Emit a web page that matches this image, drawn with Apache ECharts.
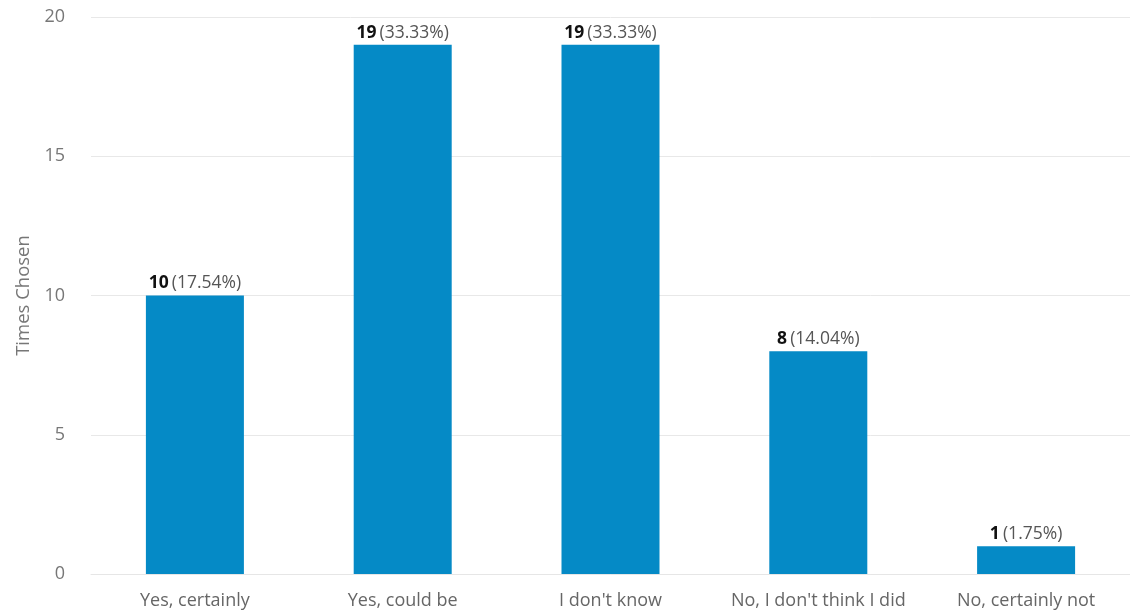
<!DOCTYPE html>
<html>
<head>
<meta charset="utf-8">
<script src="https://cdn.jsdelivr.net/npm/echarts@6/dist/echarts.min.js"></script>
<style>
  html, body { margin: 0; padding: 0; background: #ffffff; }
  #chart { width: 1130px; height: 610px; }
</style>
</head>
<body>
<div id="chart"></div>
<script>
// Survey answers and how many times each was chosen
const categories = ['Yes, certainly', 'Yes, could be', "I don't know", "No, I don't think I did", 'No, certainly not'];
const counts = [10, 19, 19, 8, 1];
const percents = ['17.54%', '33.33%', '33.33%', '14.04%', '1.75%'];
const yTicks = { min: 0, max: 20, interval: 5 };

const FONT = '"Open Sans", "Noto Sans", sans-serif';

const chart = echarts.init(document.getElementById('chart'));
chart.setOption({
  animation: false,
  textStyle: { fontFamily: FONT },
  grid: { left: 91, width: 1042, top: 17, bottom: 35, containLabel: false },
  xAxis: {
    type: 'category',
    data: categories,
    axisLine: { show: true, lineStyle: { color: '#e6e6e6', width: 1 } },
    axisTick: { show: false },
    axisLabel: { color: '#666666', fontSize: 18, margin: 18, interval: 0, hideOverlap: false, fontFamily: FONT }
  },
  yAxis: {
    type: 'value',
    min: yTicks.min,
    max: yTicks.max,
    interval: yTicks.interval,
    name: 'Times Chosen',
    nameLocation: 'middle',
    nameGap: 57,
    nameRotate: 90,
    nameTextStyle: { color: '#777777', fontSize: 18.5, fontFamily: FONT },
    axisLine: { show: false },
    axisTick: { show: false },
    axisLabel: { color: '#777777', fontSize: 18, margin: 26, fontFamily: FONT },
    splitLine: { lineStyle: { color: '#e8e8e8', width: 1 } }
  },
  series: [{
    type: 'bar',
    data: counts,
    barWidth: 98,
    itemStyle: { color: '#058ac6' },
    label: {
      show: true,
      position: 'top',
      distance: 3,
      formatter: p => '{b|' + p.value + '} {n|(' + percents[p.dataIndex] + ')}',
      rich: {
        b: { fontWeight: 'bold', color: '#111111', fontSize: 17.5, fontFamily: FONT },
        n: { color: '#555555', fontSize: 17.5, fontFamily: FONT }
      }
    }
  }]
});
</script>
</body>
</html>
